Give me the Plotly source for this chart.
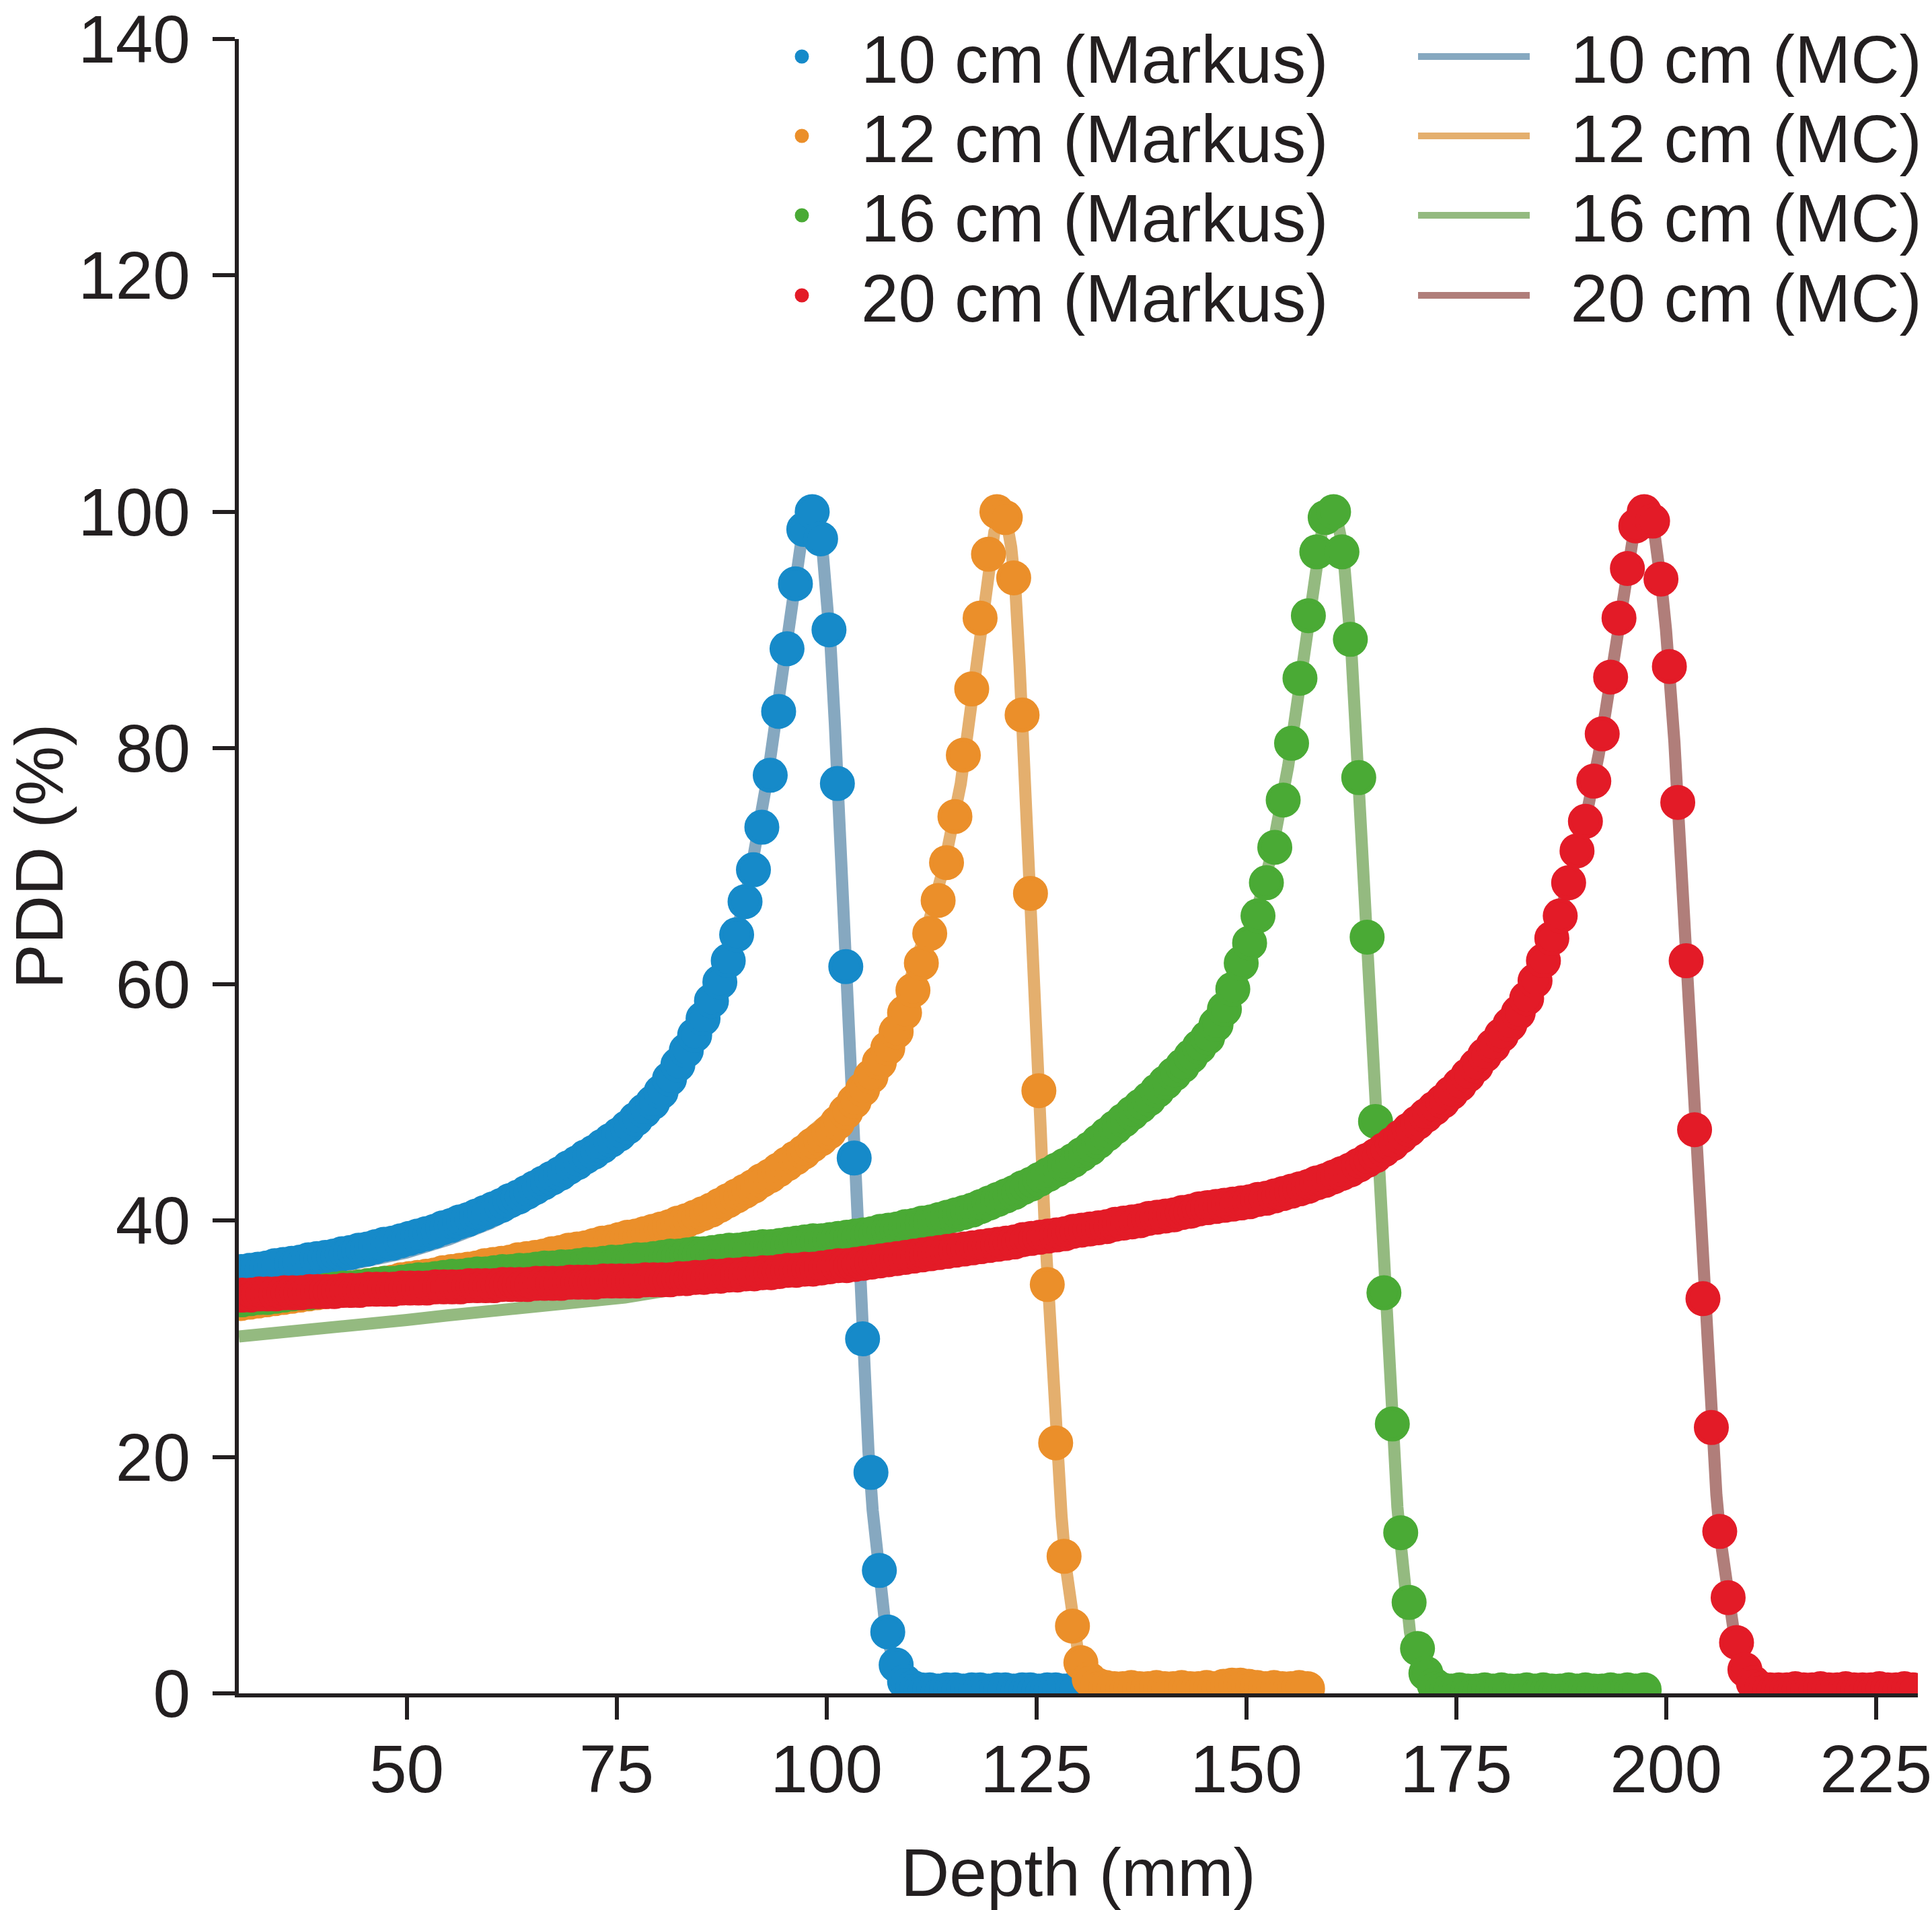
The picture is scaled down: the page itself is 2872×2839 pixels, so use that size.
import plotly.graph_objects as go

# ---------------- data ----------------
# Markus chamber measurements (1 mm scan grid); PDD values (%)
markus_10_start = 30.3
markus_10 = [35.7, 35.8, 35.9, 36.0, 36.2, 36.3, 36.4, 36.5, 36.7, 36.8,
             36.9, 37.0, 37.2, 37.3, 37.5, 37.6, 37.8, 38.0, 38.1, 38.3,
             38.5, 38.7, 38.9, 39.1, 39.4, 39.6, 39.9, 40.1, 40.4, 40.7,
             41.0, 41.3, 41.7, 42.0, 42.4, 42.8, 43.2, 43.6, 44.0, 44.5,
             44.9, 45.4, 45.8, 46.3, 46.8, 47.3, 47.9, 48.6, 49.3, 50.0,
             50.9, 52.0, 53.2, 54.4, 55.7, 57.1, 58.6, 60.2, 62.0, 64.2,
             67.0, 69.7, 73.3, 77.7, 83.1, 88.4, 93.9, 98.5, 100.0, 97.7,
             90.0, 77.0, 61.5, 45.3, 30.0, 18.7, 10.4, 5.2, 2.4, 1.0,
             0.5, 0.3, 0.3, 0.2, 0.3, 0.3, 0.2, 0.3, 0.3, 0.2,
             0.3, 0.3, 0.2, 0.3, 0.3, 0.2, 0.3, 0.3, 0.2, 0.3]

markus_12_start = 30.3
markus_12 = [33.0, 33.1, 33.2, 33.3, 33.4, 33.5, 33.6, 33.7, 33.8, 33.9,
             34.0, 34.1, 34.2, 34.3, 34.4, 34.5, 34.6, 34.7, 34.8, 35.0,
             35.1, 35.2, 35.3, 35.4, 35.6, 35.7, 35.8, 35.9, 36.0, 36.2,
             36.3, 36.4, 36.5, 36.7, 36.8, 36.9, 37.0, 37.2, 37.3, 37.5,
             37.6, 37.7, 37.9, 38.1, 38.2, 38.4, 38.6, 38.7, 38.9, 39.1,
             39.3, 39.5, 39.8, 40.0, 40.3, 40.6, 40.9, 41.3, 41.7, 42.1,
             42.5, 42.9, 43.4, 43.8, 44.3, 44.8, 45.3, 45.8, 46.4, 46.9,
             47.5, 48.3, 49.2, 50.1, 51.1, 52.2, 53.4, 54.6, 56.0, 57.6,
             59.5, 61.8, 64.3, 67.1, 70.3, 74.2, 79.4, 85.0, 91.0, 96.4,
             100.0, 99.5, 94.4, 82.8, 67.7, 51.0, 34.6, 21.2, 11.6, 5.7,
             2.6, 1.2, 0.7, 0.5, 0.4, 0.4, 0.5, 0.4, 0.4, 0.5,
             0.4, 0.4, 0.5, 0.4, 0.4, 0.5, 0.4, 0.6, 0.7, 0.7,
             0.6, 0.5, 0.4, 0.5, 0.4, 0.4, 0.5, 0.4]

markus_16_start = 30.4
markus_16 = [33.3, 33.4, 33.5, 33.5, 33.6, 33.7, 33.8, 33.9, 33.9, 34.0,
             34.1, 34.2, 34.3, 34.3, 34.4, 34.5, 34.6, 34.7, 34.7, 34.8,
             34.9, 35.0, 35.0, 35.1, 35.2, 35.3, 35.3, 35.4, 35.5, 35.5,
             35.6, 35.7, 35.7, 35.8, 35.8, 35.9, 36.0, 36.0, 36.1, 36.1,
             36.2, 36.3, 36.3, 36.4, 36.5, 36.5, 36.6, 36.7, 36.7, 36.8,
             36.9, 37.0, 37.0, 37.1, 37.2, 37.2, 37.3, 37.4, 37.5, 37.5,
             37.6, 37.7, 37.8, 37.8, 37.9, 38.0, 38.1, 38.2, 38.3, 38.3,
             38.4, 38.5, 38.6, 38.7, 38.8, 38.9, 39.1, 39.2, 39.3, 39.5,
             39.6, 39.8, 39.9, 40.1, 40.3, 40.5, 40.7, 40.9, 41.2, 41.5,
             41.8, 42.1, 42.4, 42.8, 43.1, 43.5, 43.9, 44.3, 44.7, 45.1,
             45.6, 46.1, 46.7, 47.3, 47.9, 48.5, 49.1, 49.7, 50.3, 51.0,
             51.7, 52.4, 53.1, 53.9, 54.7, 55.5, 56.6, 57.9, 59.6, 61.8,
             63.5, 65.8, 68.6, 71.6, 75.6, 80.4, 85.9, 91.2, 96.6, 99.5,
             100.0, 96.6, 89.2, 77.5, 64.0, 48.4, 33.9, 22.8, 13.6, 7.7,
             3.8, 1.7, 0.7, 0.3, 0.2, 0.3, 0.2, 0.2, 0.3, 0.2,
             0.3, 0.2, 0.2, 0.3, 0.2, 0.3, 0.2, 0.2, 0.3, 0.2,
             0.3, 0.2, 0.2, 0.3, 0.2, 0.3, 0.2, 0.3]

markus_20_start = 30.4
markus_20 = [33.7, 33.7, 33.8, 33.8, 33.8, 33.9, 33.9, 33.9, 34.0, 34.0,
             34.0, 34.0, 34.1, 34.1, 34.1, 34.2, 34.2, 34.2, 34.2, 34.3,
             34.3, 34.3, 34.3, 34.4, 34.4, 34.4, 34.4, 34.5, 34.5, 34.5,
             34.5, 34.6, 34.6, 34.6, 34.6, 34.7, 34.7, 34.7, 34.7, 34.8,
             34.8, 34.8, 34.8, 34.9, 34.9, 34.9, 34.9, 34.9, 35.0, 35.0,
             35.0, 35.0, 35.1, 35.1, 35.2, 35.2, 35.3, 35.3, 35.4, 35.4,
             35.5, 35.5, 35.6, 35.6, 35.7, 35.8, 35.8, 35.9, 35.9, 36.0,
             36.1, 36.2, 36.2, 36.3, 36.4, 36.5, 36.6, 36.7, 36.8, 36.9,
             37.0, 37.1, 37.2, 37.3, 37.4, 37.5, 37.6, 37.7, 37.8, 37.9,
             38.0, 38.1, 38.2, 38.4, 38.5, 38.6, 38.7, 38.8, 38.9, 39.1,
             39.2, 39.3, 39.4, 39.5, 39.7, 39.8, 39.9, 40.0, 40.2, 40.3,
             40.4, 40.5, 40.7, 40.8, 41.0, 41.1, 41.2, 41.3, 41.4, 41.5,
             41.6, 41.8, 41.9, 42.1, 42.3, 42.5, 42.7, 42.9, 43.2, 43.4,
             43.7, 44.0, 44.3, 44.7, 45.1, 45.5, 46.0, 46.5, 47.1, 47.7,
             48.3, 48.9, 49.5, 50.1, 50.8, 51.5, 52.3, 53.1, 54.0, 54.8,
             55.7, 56.6, 57.6, 58.8, 60.3, 62.0, 63.9, 65.8, 68.6, 71.3,
             73.8, 77.2, 81.2, 86.0, 91.0, 95.2, 98.8, 100.0, 99.2, 94.3,
             86.9, 75.4, 62.0, 47.7, 33.4, 22.5, 13.7, 8.1, 4.3, 2.0,
             0.9, 0.4, 0.3, 0.3, 0.3, 0.4, 0.3, 0.3, 0.4, 0.3,
             0.3, 0.4, 0.3, 0.3, 0.3, 0.4, 0.3, 0.3, 0.4, 0.3]

# Monte Carlo curves: depth (mm) and PDD (%)
mc_10_depth = [30, 35, 40, 45, 50, 55, 60, 65, 70, 75, 80, 83, 85, 87, 89, 90, 91, 92, 93, 94,
               95, 96, 97, 98, 98.8, 99.5, 100, 100.5, 101, 101.5, 102, 102.5, 103, 103.5, 104,
               104.5, 105, 105.5, 106, 106.5, 107, 107.5, 108, 108.5, 109, 110, 111, 120, 129.3]
mc_10_pdd = [34.3, 35.0, 35.7, 36.4, 37.3, 38.4, 39.8, 41.6, 43.7, 46.5, 50.0, 53.0, 55.8, 59.3,
             63.5, 66.3, 69.6, 73.3, 77.6, 82.6, 88.0, 93.5, 97.5, 99.3, 99.5, 97.0, 93.5, 88.5,
             82.0, 74.0, 65.0, 57.0, 49.0, 41.0, 33.5, 26.5, 20.5, 15.5, 11.5, 8.3, 5.8, 4.0,
             2.6, 1.6, 1.0, 0.5, 0.3, 0.2, 0.2]

mc_12_depth = [30, 35, 40, 45, 50, 55, 60, 65, 70, 75, 80, 85, 90, 95, 100, 103, 106, 108, 110,
               112, 114, 116, 117, 118, 119, 120, 120.8, 121.5, 122, 122.5, 123, 123.5, 124,
               124.5, 125, 125.5, 126, 126.5, 127, 127.5, 128, 128.5, 129, 129.5, 130, 130.5,
               131, 132, 140, 150, 157.3]
mc_12_pdd = [32.3, 33.0, 33.6, 34.2, 34.9, 35.6, 36.3, 37.0, 37.8, 38.7, 39.7, 41.1, 43.1, 45.6,
             48.6, 51.0, 54.3, 57.0, 60.5, 64.8, 70.0, 77.0, 82.0, 87.8, 93.8, 98.3, 99.6, 99.0,
             97.0, 93.5, 87.0, 80.0, 72.5, 64.5, 56.5, 48.0, 39.5, 32.5, 25.5, 19.5, 15.0, 10.8,
             7.6, 5.1, 3.3, 2.1, 1.3, 0.6, 0.4, 0.4, 0.4]

mc_16_depth = [30, 35, 40, 45, 50, 55, 60, 65, 70, 76, 82, 88, 95, 100, 105, 110, 115, 120, 125,
               130, 135, 140, 144, 147, 149, 151, 153, 155, 156, 157, 158, 159, 160, 160.8, 161.5,
               162, 162.5, 163, 163.5, 164, 164.5, 165, 165.5, 166, 166.5, 167, 167.5, 168,
               168.5, 169, 169.5, 170, 170.5, 171, 172, 180, 190, 197.4]
mc_16_pdd = [30.2, 30.5, 30.9, 31.2, 31.6, 32.0, 32.3, 32.7, 33.0, 33.5, 34.2, 35.0, 36.0, 36.7,
             37.6, 38.7, 39.9, 41.4, 43.2, 45.3, 48.0, 51.4, 54.5, 57.8, 61.0, 65.5, 71.0, 78.5,
             83.5, 89.0, 94.5, 98.3, 99.6, 99.4, 97.0, 93.5, 88.5, 82.0, 75.0, 68.0, 61.0, 53.5,
             46.0, 39.0, 32.0, 26.5, 21.0, 15.8, 12.0, 7.8, 5.2, 3.4, 2.1, 1.3, 0.5, 0.3, 0.3, 0.3]

mc_20_depth = [30, 40, 50, 60, 70, 80, 90, 100, 110, 120, 130, 140, 150, 160, 165, 170, 175, 180,
               183, 186, 188, 190, 192, 194, 195, 196, 197, 197.8, 198.5, 199, 199.5, 200, 200.5,
               201, 201.5, 202, 202.5, 203, 203.5, 204, 204.5, 205, 205.5, 206, 206.5, 207,
               207.5, 208, 208.5, 209, 209.5, 210, 211, 220, 229.4]
mc_20_pdd = [33.7, 34.0, 34.3, 34.5, 34.8, 35.0, 35.5, 36.1, 37.0, 38.0, 39.2, 40.4, 41.6, 43.7,
             45.5, 48.3, 51.5, 55.7, 59.0, 63.5, 67.5, 72.5, 79.5, 88.5, 93.5, 97.5, 99.5, 99.8,
             98.8, 96.5, 93.5, 90.0, 85.8, 80.5, 74.0, 67.5, 60.5, 53.5, 46.3, 39.0, 32.0, 26.3,
             21.3, 16.8, 13.0, 10.0, 7.5, 5.6, 4.0, 2.7, 1.7, 1.0, 0.4, 0.3, 0.3]

field_labels = ["10 cm", "12 cm", "16 cm", "20 cm"]
x_ticks = [50, 75, 100, 125, 150, 175, 200, 225]
y_ticks = [0, 20, 40, 60, 80, 100, 120, 140]

# ---------------- styling ----------------
markus_colors = ["#168ac9", "#eb8f2a", "#4aaa35", "#e31b27"]
mc_colors = ["#86a8c0", "#e4af6e", "#94ba80", "#b07e7a"]
ink = "#231f20"
font_family = "Liberation Sans, Arial, sans-serif"

markus_series = [(markus_10_start, markus_10), (markus_12_start, markus_12),
                 (markus_16_start, markus_16), (markus_20_start, markus_20)]
mc_series = [(mc_10_depth, mc_10_pdd), (mc_12_depth, mc_12_pdd),
             (mc_16_depth, mc_16_pdd), (mc_20_depth, mc_20_pdd)]

fig = go.Figure()
legend_keys = ["legend", "legend2", "legend3", "legend4"]
nbsp = "\u00a0"

for i, label in enumerate(field_labels):
    start, vals = markus_series[i]
    depth = [round(start + k, 1) for k in range(len(vals))]
    mdepth, mpdd = mc_series[i]
    fig.add_trace(go.Scatter(
        x=mdepth, y=mpdd, mode="lines", name=nbsp * 2 + label + " (MC)",
        line=dict(color=mc_colors[i], width=18),
        legend=legend_keys[i], legendrank=2, legendwidth=700,
    ))
    fig.add_trace(go.Scatter(
        x=depth, y=vals, mode="markers", name=label + " (Markus)",
        marker=dict(color=markus_colors[i], size=46,
                    line=dict(color=markus_colors[i], width=6)),
        legend=legend_keys[i], legendrank=1, legendwidth=818,
    ))

W, H = 2872, 2839
ml, mr, mt, mb = 355, 21, 58, 322
plot_w = W - ml - mr
plot_h = H - mt - mb

row_px = [84, 202, 320, 439]
legend_left_px = 1104

layout_legends = {}
for i, key in enumerate(legend_keys):
    layout_legends[key] = dict(
        orientation="h",
        x=(legend_left_px - ml) / plot_w, xanchor="left",
        y=(H - mb - row_px[i]) / plot_h, yanchor="middle",
        itemwidth=166,
        font=dict(family=font_family, size=100, color=ink),
        bgcolor="rgba(0,0,0,0)", borderwidth=0,
        entrywidthmode="pixels",
        itemclick=False, itemdoubleclick=False,
    )

axis_common = dict(
    showline=True, linewidth=6, linecolor=ink,
    ticks="outside", ticklen=33, tickwidth=6, tickcolor=ink,
    showgrid=False, zeroline=False,
    tickfont=dict(family=font_family, size=100, color=ink),
    ticklabeloverflow="allow",
)

# y-axis title placed as a rotated annotation (free of the margin clamp)
ytitle_center_px = (58, 1273)

fig.update_layout(
    width=W, height=H,
    margin=dict(l=ml, r=mr, t=mt, b=mb, autoexpand=False),
    paper_bgcolor="white", plot_bgcolor="white",
    showlegend=True,
    font=dict(family=font_family, size=100, color=ink),
    xaxis=dict(range=[30, 230], tickmode="array", tickvals=x_ticks,
               ticklabelstandoff=-12,
               title=dict(text="Depth (mm)", font=dict(family=font_family, size=100, color=ink),
                          standoff=100),
               **axis_common),
    yaxis=dict(range=[0, 140], tickmode="array", tickvals=y_ticks,
               ticklabelstandoff=13,
               **axis_common),
    annotations=[dict(
        text="PDD (%)", textangle=-90, showarrow=False,
        xref="paper", yref="paper",
        x=(ytitle_center_px[0] - ml) / plot_w,
        y=(H - mb - ytitle_center_px[1]) / plot_h,
        xanchor="center", yanchor="middle",
        font=dict(family=font_family, size=100, color=ink),
    )],
    **layout_legends,
)

fig.write_html("out.html", config={"displayModeBar": False},
               post_script="document.body.style.margin='0';")
